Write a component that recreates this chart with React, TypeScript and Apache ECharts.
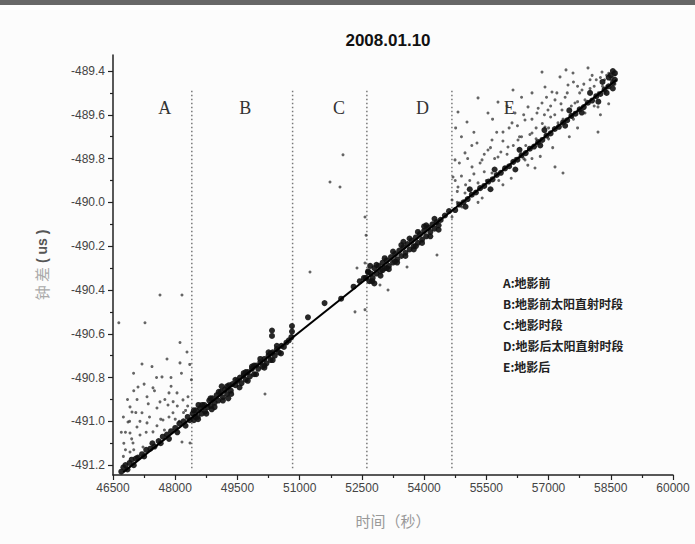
import React, { useEffect, useRef } from "react";
import * as echarts from "echarts";

const titleText = "2008.01.10";
const yTickValues = [-491.2, -491.0, -490.8, -490.6, -490.4, -490.2, -490.0, -489.8, -489.6, -489.4];
const yMinorValues = [-491.1, -490.9, -490.7, -490.5, -490.3, -490.1, -489.9, -489.7, -489.5];
const regionBounds = [48400, 50830, 52620, 54670];
const regionLabels = ["A", "B", "C", "D", "E"];
const regionLabelX = [47750, 49690, 51950, 53960, 56050];
const legendLines = ["A:地影前", "B:地影前太阳直射时段", "C:地影时段", "D:地影后太阳直射时段", "E:地影后"];
const fitLine = [[46750, -491.232], [58640, -489.44]];

// sparse scatter (mostly regions A, C, E)
const sparsePoints = [
  [47633, -490.423], [48163, -490.423], [47271, -490.55], [46640, -490.55], [48115, -490.64], [48284, -490.683],
  [47802, -490.715], [47199, -490.738], [47440, -490.75], [48115, -490.733], [46996, -490.78],
  [47681, -490.797], [47898, -490.8], [47103, -490.843], [47464, -490.847], [46910, -490.934],
  [48043, -490.87], [47320, -490.888], [47633, -490.911], [47826, -490.925], [48187, -490.902],
  [48308, -490.888], [46958, -490.957], [47199, -490.961], [47560, -490.939], [46862, -491.003],
  [47078, -491.026], [47320, -491.007], [47705, -490.994], [47946, -490.961], [46910, -491.053],
  [47151, -491.062], [47464, -491.048], [46982, -491.099], [47223, -491.117], [46910, -491.14],
  [47103, -491.163], [48163, -491.094], [48356, -491.099], [46760, -491.1], [46800, -491.05],
  [47000, -491.13], [47380, -490.98], [47560, -491.02], [47740, -491.04], [48000, -490.99],
  [48250, -490.95], [47850, -490.87], [47080, -490.9], [46750, -491.16], [48390, -490.81],
  [46700, -491.05], [46750, -490.98], [46850, -490.9], [46950, -491.08], [47050, -490.96],
  [47150, -491.0], [47250, -490.83], [47350, -490.92], [47500, -490.86], [47550, -490.8],
  [47650, -490.99], [47750, -490.9], [47850, -490.98], [47950, -490.91], [48050, -490.93],
  [48100, -491.0], [48150, -490.78], [48200, -490.96], [48300, -490.93], [46800, -491.13],
  [46900, -491.0], [47000, -490.86], [48350, -490.74], [47300, -491.05], [47900, -490.84],
  [50164, -490.875], [51249, -490.318], [52045, -489.783], [51731, -489.907], [51972, -489.93],
  [52382, -490.3], [52575, -490.277], [52334, -490.5], [52575, -490.49], [52936, -490.377],
  [52575, -490.067], [52600, -490.15], [53130, -490.4], [53588, -490.295], [54310, -490.24],
  [56842, -489.405], [57276, -489.427], [57590, -489.409], [57951, -489.386], [57420, -489.395],
  [58288, -489.405], [56601, -489.5], [56914, -489.473], [57083, -489.496], [57469, -489.464],
  [57806, -489.487], [56143, -489.487], [55300, -489.523], [55781, -489.542], [55540, -489.592],
  [54817, -489.587], [55034, -489.633], [56191, -489.592], [56505, -489.564], [56842, -489.546],
  [57155, -489.532], [58119, -489.519], [58360, -489.5], [58192, -489.679], [57155, -489.838],
  [57348, -489.866], [56673, -489.843], [56432, -489.806], [54986, -489.774], [55275, -489.729],
  [55637, -489.715], [55902, -489.679], [56119, -489.637], [56432, -489.624], [56721, -489.592],
  [56986, -489.578], [57324, -489.578], [57637, -489.546], [57878, -489.532], [58529, -489.441],
  [58601, -489.418], [54745, -489.806], [54697, -489.884], [54817, -489.93], [55155, -489.838],
  [55396, -489.806], [55540, -489.761], [55781, -489.793], [56022, -489.747], [56263, -489.715],
  [56601, -489.683], [56914, -489.656], [57228, -489.637], [57565, -489.61], [57878, -489.592],
  [58192, -489.564], [54986, -489.957], [55300, -489.911], [55637, -489.866], [55950, -489.838],
  [54673, -489.989], [54673, -490.067], [54914, -490.021], [55100, -489.9], [55450, -489.86],
  [55850, -489.77], [56300, -489.7], [56700, -489.66], [57050, -489.61], [57400, -489.52],
  [57700, -489.47], [58000, -489.44], [58400, -489.42], [55200, -489.68], [55650, -489.62],
  [56000, -489.56], [56350, -489.52], [54900, -489.7], [54760, -489.66], [55900, -489.92],
  [56500, -489.83], [57100, -489.75], [57700, -489.66], [58250, -489.6], [58450, -489.55],
  [55400, -489.98], [56100, -489.89], [56800, -489.79], [57500, -489.7], [58300, -489.47],
  [54800, -489.95], [54850, -489.82], [54900, -489.88], [55000, -489.92], [55050, -489.8],
  [55150, -489.74], [55200, -489.87], [55250, -489.95], [55350, -489.82], [55450, -489.78],
  [55500, -489.9], [55600, -489.75], [55700, -489.8], [55750, -489.68], [55800, -489.9],
  [55900, -489.72], [56000, -489.78], [56050, -489.66], [56150, -489.74], [56200, -489.8],
  [56250, -489.65], [56350, -489.7], [56400, -489.6], [56450, -489.74], [56550, -489.69],
  [56600, -489.62], [56700, -489.71], [56750, -489.57], [56850, -489.64], [56900, -489.6],
  [56950, -489.52], [57000, -489.66], [57050, -489.56], [57150, -489.6], [57200, -489.5],
  [57300, -489.55], [57350, -489.62], [57450, -489.5], [57550, -489.56], [57600, -489.45],
  [57700, -489.54], [57750, -489.5], [57850, -489.46], [57900, -489.55], [58000, -489.48],
  [58050, -489.42], [58100, -489.47], [58150, -489.44], [58200, -489.5], [58250, -489.43],
  [58350, -489.44], [58400, -489.47], [58450, -489.41], [58500, -489.44], [58550, -489.43],
  [58600, -489.46], [54750, -489.9], [54800, -490.0], [55300, -490.0], [55800, -489.87],
  [56400, -489.8], [57000, -489.71], [57600, -489.62], [58100, -489.56], [56600, -489.8]
];

// dense band along the fit (regions A/B/C/D/E)
const bandPoints = [
  [46700, -491.23], [46750, -491.21], [46800, -491.2], [46850, -491.22], [46900, -491.19],
  [46950, -491.175], [47000, -491.2], [47050, -491.17], [47100, -491.165], [47200, -491.15],
  [47250, -491.16], [47300, -491.13], [47400, -491.125], [47450, -491.1], [47500, -491.115],
  [47600, -491.09], [47650, -491.1], [47700, -491.07], [47800, -491.06], [47850, -491.08],
  [47900, -491.045], [48000, -491.03], [48050, -491.05], [48100, -491.01], [48200, -491.0],
  [48250, -491.02], [48300, -490.98], [48350, -490.995], [48477, -490.98],
  [48420, -490.965], [48450, -490.995], [48500, -490.95], [48540, -490.98], [48600, -490.94],
  [48640, -490.965], [48700, -490.925], [48720, -490.955], [48780, -490.935], [48820, -490.905],
  [48860, -490.93], [48900, -490.895], [48950, -490.915], [49000, -490.88], [49040, -490.905],
  [49100, -490.865], [49150, -490.89], [49200, -490.855], [49250, -490.875], [49300, -490.835],
  [49340, -490.86], [49380, -490.83], [49450, -490.835], [49500, -490.815], [49560, -490.8],
  [49600, -490.825], [49650, -490.79], [49700, -490.81], [49750, -490.775], [49800, -490.795],
  [49850, -490.76], [49900, -490.785], [49950, -490.745], [50000, -490.76], [50050, -490.73],
  [50100, -490.75], [50150, -490.715], [50200, -490.735], [50250, -490.7], [50300, -490.72],
  [50350, -490.685], [50400, -490.7], [50450, -490.67], [50500, -490.685], [50560, -490.655],
  [50620, -490.66], [50680, -490.64], [50740, -490.63], [50800, -490.615],
  [48560, -490.925], [48880, -490.945], [49120, -490.84], [49280, -490.895], [49700, -490.775],
  [49900, -490.745], [50150, -490.745], [50300, -490.69], [50333, -490.585], [50333, -490.61],
  [50815, -490.565], [50815, -490.59],
  [48450, -490.95], [48550, -490.99], [48650, -490.925], [48750, -490.965], [48850, -490.895],
  [48950, -490.935], [49050, -490.865], [49150, -490.905], [49250, -490.84], [49350, -490.875],
  [49450, -490.81], [49550, -490.845], [49650, -490.78], [49750, -490.815], [49850, -490.75],
  [49950, -490.785], [50050, -490.715], [50150, -490.755], [50250, -490.685], [50350, -490.72],
  [50450, -490.655], [50550, -490.69],
  [51200, -490.525], [51600, -490.46], [52000, -490.44], [52300, -490.385], [52450, -490.36],
  [52550, -490.345],
  [52600, -490.345], [52650, -490.32], [52680, -490.36], [52720, -490.325], [52760, -490.345],
  [52800, -490.3], [52850, -490.325], [52900, -490.29], [52950, -490.315], [53000, -490.275],
  [53050, -490.3], [53100, -490.265], [53150, -490.29], [53200, -490.25], [53250, -490.275],
  [53300, -490.235], [53350, -490.26], [53400, -490.22], [53450, -490.245], [53500, -490.205],
  [53550, -490.23], [53600, -490.19], [53650, -490.215], [53700, -490.175], [53750, -490.2],
  [53800, -490.16], [53850, -490.185], [53900, -490.145], [53950, -490.17], [54000, -490.13],
  [54050, -490.155], [54100, -490.115], [54150, -490.135], [54200, -490.1], [54250, -490.12],
  [54300, -490.09], [54350, -490.105], [54400, -490.08], [52700, -490.29], [53000, -490.31],
  [53300, -490.27], [53500, -490.18], [53800, -490.2], [54000, -490.11], [52800, -490.37],
  [53100, -490.3], [54500, -490.06], [54600, -490.04],
  [52650, -490.315], [52750, -490.36], [52850, -490.285], [52950, -490.335], [53050, -490.255],
  [53150, -490.305], [53250, -490.225], [53350, -490.275], [53450, -490.195], [53550, -490.245],
  [53650, -490.165], [53750, -490.215], [53850, -490.135], [53950, -490.185], [54050, -490.105],
  [54150, -490.155], [54250, -490.075], [54350, -490.125],
  [54750, -490.035], [54850, -490.01], [54950, -490.0], [55050, -489.985], [55150, -489.965],
  [55250, -489.955], [55350, -489.935], [55450, -489.925], [55550, -489.905], [55650, -489.895],
  [55750, -489.875], [55850, -489.865], [55950, -489.845], [56050, -489.835], [56150, -489.815],
  [56250, -489.805], [56350, -489.785], [56450, -489.775], [56550, -489.755], [56650, -489.745],
  [56750, -489.725], [56850, -489.715], [56950, -489.695], [57050, -489.685], [57150, -489.665],
  [57250, -489.655], [57350, -489.635], [57450, -489.625], [57550, -489.605], [57650, -489.595],
  [57750, -489.575], [57850, -489.565], [57950, -489.545], [58050, -489.535], [58150, -489.515],
  [58250, -489.505], [58350, -489.485], [58450, -489.47], [58550, -489.455], [58600, -489.44],
  [55000, -490.02], [55600, -489.94], [56200, -489.85], [56800, -489.74], [57400, -489.65],
  [57800, -489.59], [58200, -489.54], [58400, -489.5], [58550, -489.48], [55100, -489.94],
  [55700, -489.85], [56300, -489.76], [56900, -489.67], [57500, -489.58], [58000, -489.5],
  [58300, -489.45], [58500, -489.42], [58600, -489.41], [58450, -489.43], [58550, -489.4]
];

export default function App() {
  const ref = useRef<HTMLDivElement>(null);
  useEffect(() => {
    if (!ref.current) return;
    const chart = echarts.init(ref.current, null, { renderer: "svg" });
    const dividerSeries = regionBounds.map((x) => ({
      type: "line",
      data: [[x, -489.49], [x, -491.22]],
      symbol: "none",
      silent: true,
      lineStyle: { type: [1.5, 2.5], width: 1.5, color: "#777" },
      z: 1,
    }));
    chart.setOption({
      animation: false,
      backgroundColor: "#fcfcfc",
      title: {
        text: titleText,
        left: 383,
        top: 27,
        textAlign: "center",
        textStyle: { fontFamily: "Liberation Sans", fontSize: 17, fontWeight: "bold", color: "#111" },
      },
      grid: { left: 113, right: 22, top: 55, bottom: 69 },
      xAxis: {
        type: "value",
        min: 46500,
        max: 60000,
        interval: 1500,
        name: "时间（秒）",
        nameLocation: "middle",
        nameGap: 38,
        nameTextStyle: { color: "#999", fontSize: 15, fontFamily: "Noto Sans CJK SC" },
        axisLine: { show: true, lineStyle: { color: "#222", width: 1.5 } },
        axisTick: { show: true, length: 5, lineStyle: { color: "#222", width: 1.2 } },
        minorTick: { show: true, splitNumber: 2, length: 3, lineStyle: { color: "#222", width: 1.2 } },
        axisLabel: {
          color: "#444",
          fontSize: 12,
          margin: 7,
          fontFamily: "Liberation Sans",
          formatter: (v: number) => String(v),
        },
        splitLine: { show: false },
      },
      yAxis: [
        {
          type: "value",
          min: -491.245,
          max: -489.327,
          name: "{a|钟 差}{b| ( us )}",
          nameLocation: "middle",
          nameGap: 64,
          nameTextStyle: {
            rich: {
              a: { color: "#aaa", fontSize: 15, fontFamily: "Noto Sans CJK SC" },
              b: { color: "#555", fontSize: 14, fontWeight: "bold", fontFamily: "Liberation Sans" },
            },
          },
          axisLine: { show: true, lineStyle: { color: "#222", width: 1.5 } },
          axisTick: { show: true, customValues: yTickValues, length: 5, lineStyle: { color: "#222", width: 1.2 } },
          axisLabel: {
            customValues: yTickValues,
            formatter: (v: number) => v.toFixed(1),
            color: "#444",
            fontSize: 12,
            margin: 8,
            fontFamily: "Liberation Sans",
          },
          splitLine: { show: false },
        },
        {
          type: "value",
          min: -491.245,
          max: -489.327,
          position: "left",
          axisLine: { show: false },
          axisTick: { show: true, customValues: yMinorValues, length: 3, lineStyle: { color: "#222", width: 1.2 } },
          axisLabel: { show: false },
          splitLine: { show: false },
        },
      ],
      series: [
        ...dividerSeries,
        {
          type: "scatter",
          data: sparsePoints,
          symbolSize: 3,
          itemStyle: { color: "#333", opacity: 0.75 },
          z: 2,
        },
        {
          type: "scatter",
          data: bandPoints,
          symbolSize: 6,
          itemStyle: { color: "#111", opacity: 0.9 },
          z: 3,
        },
        {
          type: "line",
          data: fitLine,
          symbol: "none",
          lineStyle: { color: "#000", width: 2 },
          z: 4,
        },
      ],
      graphic: [
        { type: "rect", left: 0, top: 0, shape: { width: 695, height: 5 }, style: { fill: "#666" } },
        ...regionLabels.map((t, i) => ({
          type: "text",
          x: 113 + ((regionLabelX[i] - 46500) / 13500) * 560,
          y: 108,
          style: {
            text: t,
            fill: "#333",
            font: "18px 'Liberation Serif'",
            textAlign: "center",
            textVerticalAlign: "middle",
          },
        })),
        {
          type: "text",
          x: 503,
          y: 272,
          style: {
            text: legendLines.join("\n"),
            fill: "#222",
            font: "bold 12px 'Noto Sans CJK SC'",
            lineHeight: 21,
          },
        },
      ],
    });
    return () => chart.dispose();
  }, []);
  return (
    <div
      ref={ref}
      style={{ position: "fixed", left: 0, top: 0, width: 695, height: 544 }}
    />
  );
}
